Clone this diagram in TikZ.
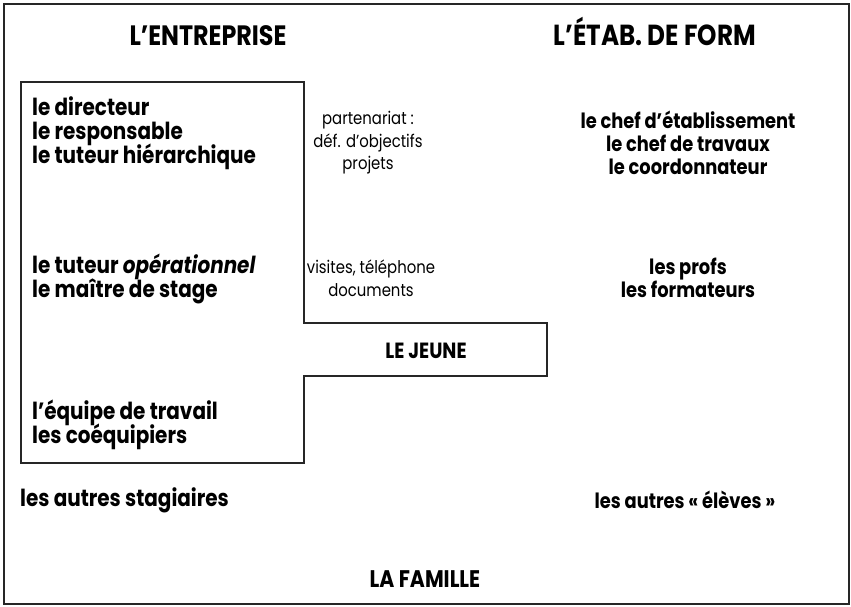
\documentclass[tikz,border=0pt]{standalone}
\usepackage{fontspec}
\setmainfont[FakeStretch=0.85]{Poppins}
\usepackage{tikz}

\newcommand{\tightlines}{\lineskiplimit=-20pt\relax}

\begin{document}
\begin{tikzpicture}[
    x=1pt, y=-1pt,
    head/.style={
        font=\fontsize{28}{30}\selectfont\bfseries,
        anchor=base,
        inner sep=0pt
    },
    role/.style={
        font=\fontsize{23.5}{24}\selectfont\bfseries\tightlines,
        align=left,
        anchor=west,
        inner sep=0pt
    },
    grp/.style={
        font=\fontsize{21}{23}\selectfont\bfseries\tightlines,
        align=center,
        inner sep=0pt
    },
    link/.style={
        font=\fontsize{17.5}{22.5}\selectfont\tightlines,
        align=center,
        inner sep=0pt
    },
    frame/.style={
        draw=black!85,
        line width=1.2pt
    }
]
\useasboundingbox (0,0) rectangle (851,607);

% outer frame
\draw[frame] (4,4) rectangle (849,604);

% the company and the young one
\draw[frame] (21,82) -- (304,82) -- (304,323) -- (547,323) -- (547,376)
    -- (304,376) -- (304,463) -- (21,463) -- cycle;

% headings
\node[head] (entreprise) at (208,46) {L'ENTREPRISE};
\node[head, font=\fontsize{29}{30}\selectfont\bfseries] (etab) at (655,46) {L'ÉTAB. DE FORM};

% company side
\node[role] (direction) at (32,133) {le directeur\\le responsable\\le tuteur hiérarchique};
\node[role] (tuteur) at (32,279) {le tuteur \textit{opérationnel}\\le maître de stage};
\node[role] (equipe) at (32,425) {l'équipe de travail\\les coéquipiers};

% links
\node[link] (partenariat) at (368,143) {partenariat :\\déf. d'objectifs\\projets};
\node[link] (visites) at (371,278) {visites, téléphone\\documents};

% school side
\node[grp] (chefs) at (688,143) {le chef d'établissement\\le chef de travaux\\le coordonnateur};
\node[grp] (profs) at (688,278) {les profs\\les formateurs};

% the young one
\node[head, font=\fontsize{22}{24}\selectfont\bfseries] (jeune) at (426,358) {LE JEUNE};

% others
\node[role] (stagiaires) at (20,500) {les autres stagiaires};
\node[grp] (eleves) at (685,500) {les autres « élèves »};

% family
\node[head, font=\fontsize{24}{26}\selectfont\bfseries] (famille) at (425,587) {LA FAMILLE};

\end{tikzpicture}
\end{document}
